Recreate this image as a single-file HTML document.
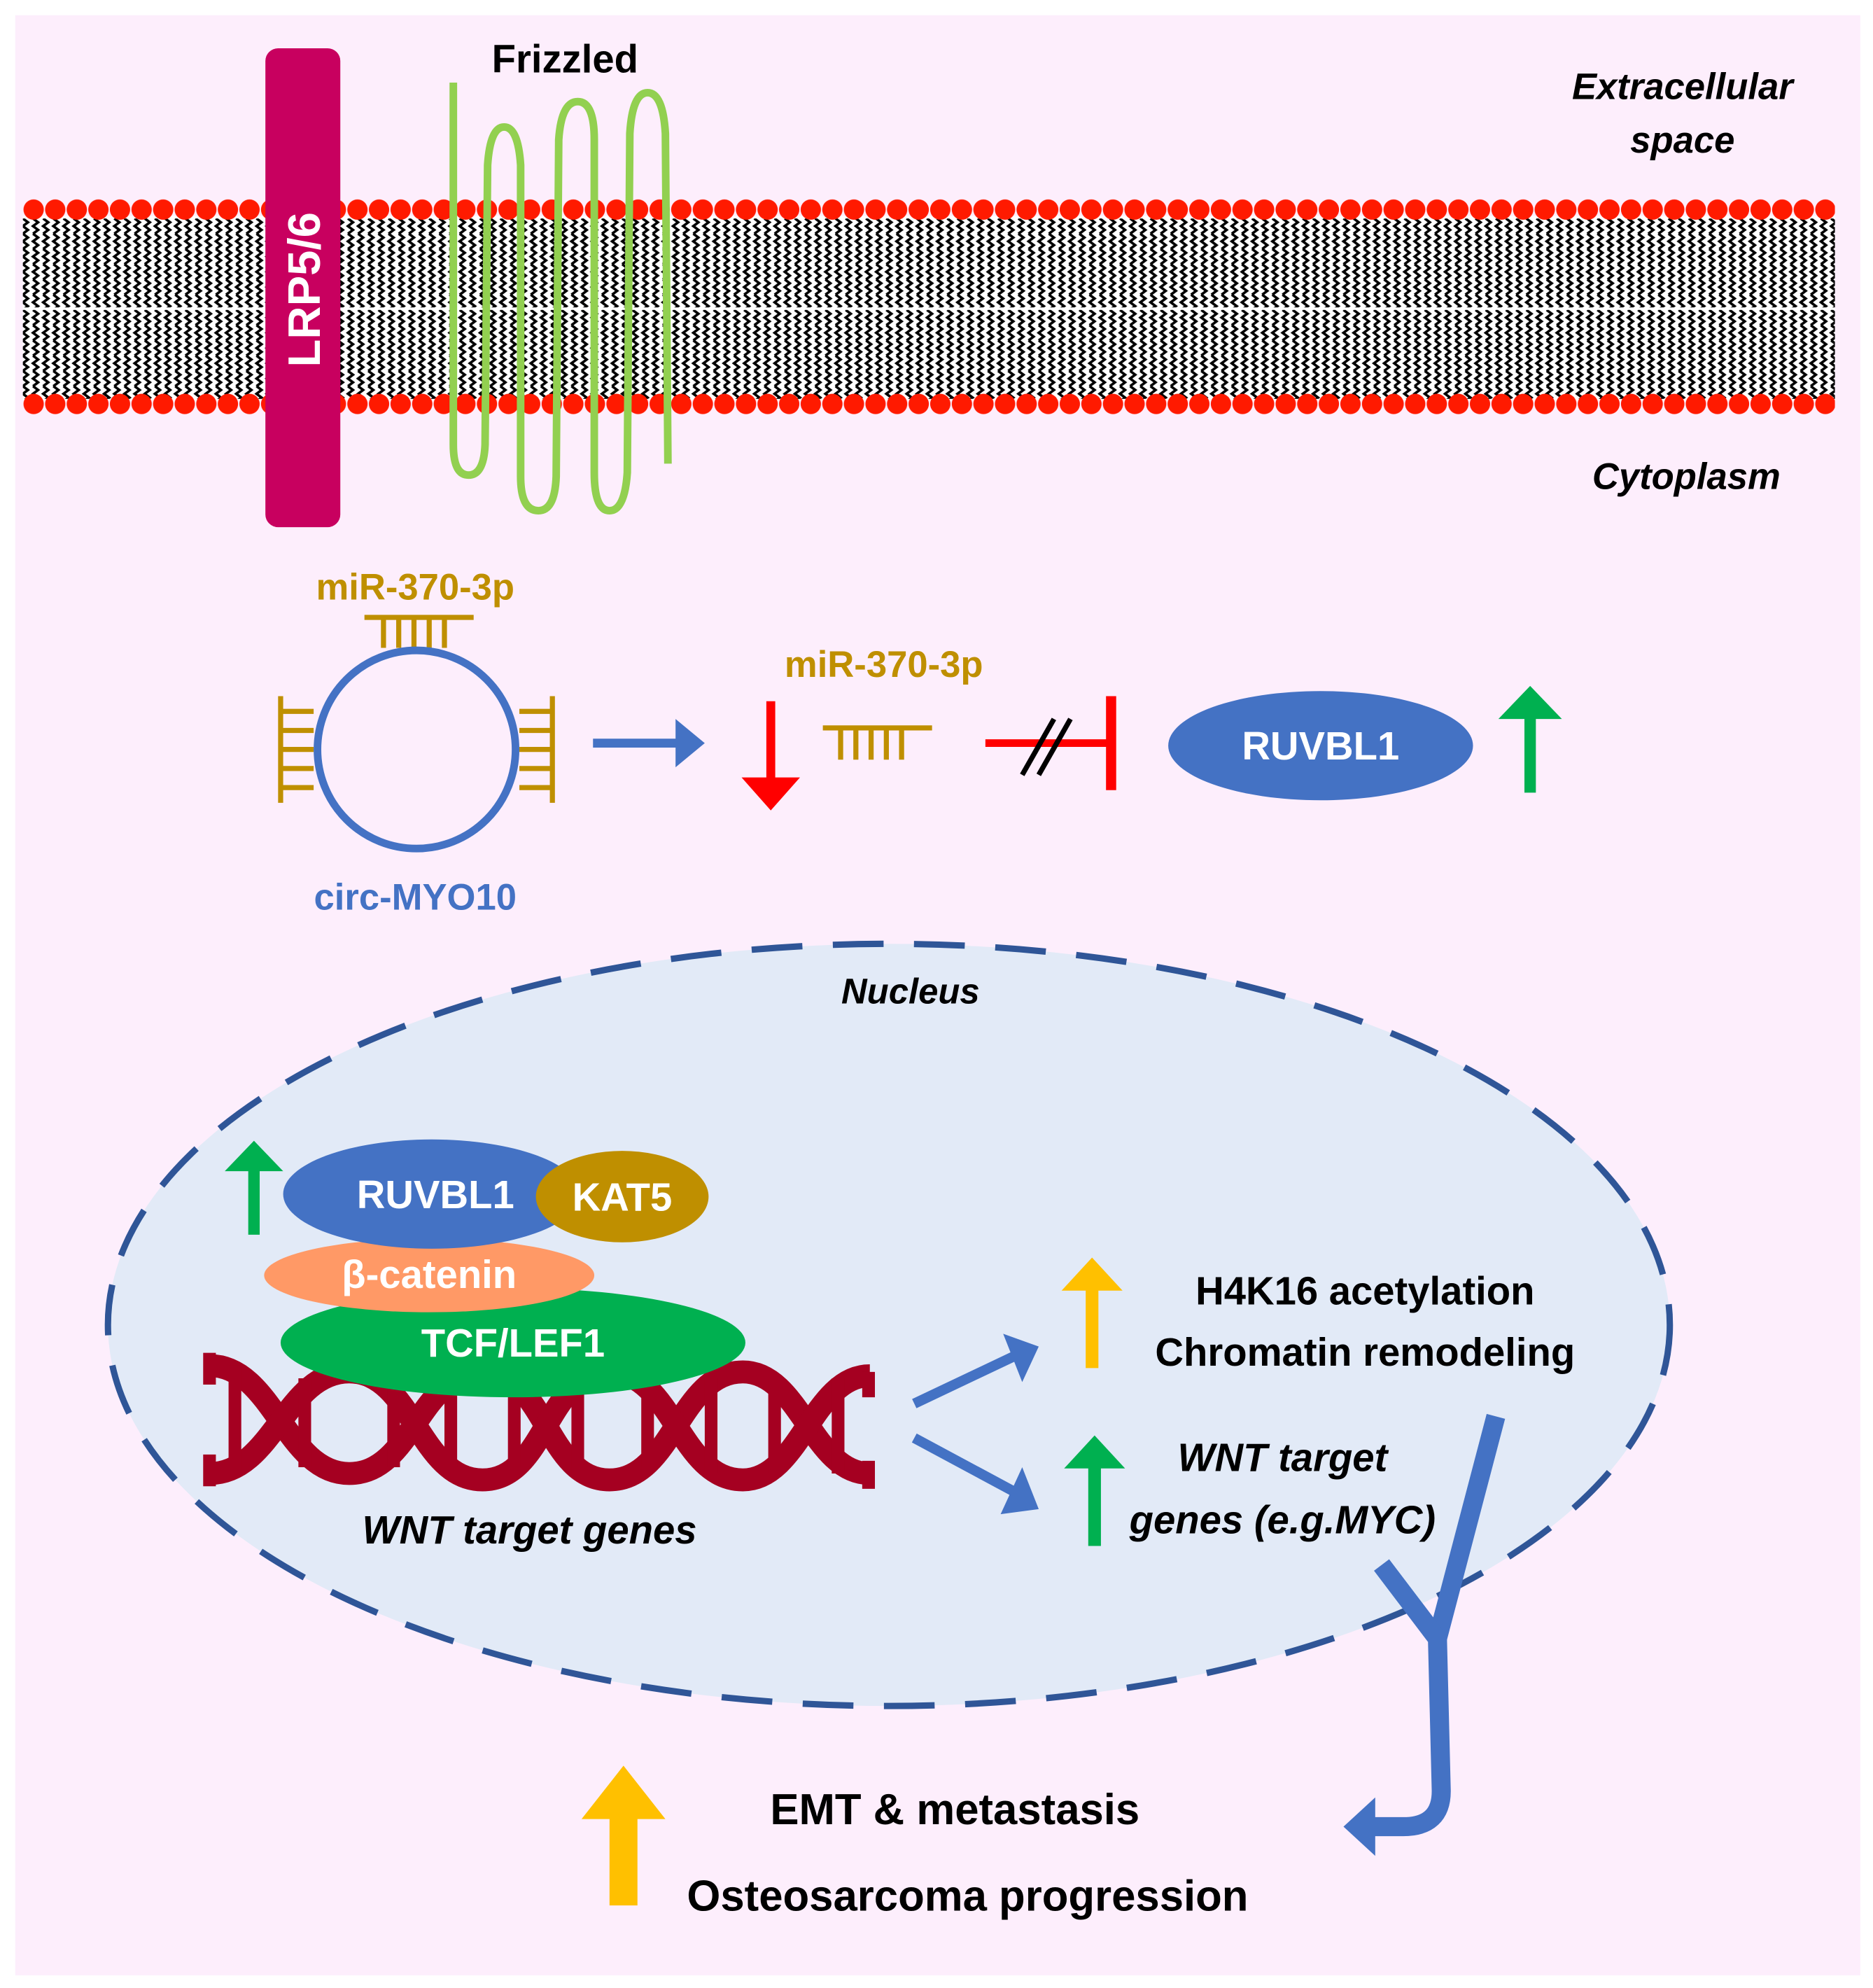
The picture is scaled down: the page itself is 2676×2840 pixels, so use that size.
<!DOCTYPE html>
<html><head><meta charset="utf-8"><style>
html,body{margin:0;padding:0;background:#fff;}
svg{display:block;}
text{font-family:"Liberation Sans",sans-serif;font-weight:bold;}
</style></head><body>
<svg width="2676" height="2840" viewBox="0 0 1475 1565" preserveAspectRatio="none" xmlns="http://www.w3.org/2000/svg">
<defs>
<pattern id="zz" x="0" y="172" width="8" height="12" patternUnits="userSpaceOnUse">
<polyline points="2,0 6,3 2,6 6,9 2,12" fill="none" stroke="#000" stroke-width="2"/>
</pattern>
<pattern id="dots1" x="18" y="155" width="17" height="20" patternUnits="userSpaceOnUse">
<circle cx="8.5" cy="10" r="8" fill="#ff1a00"/>
</pattern>
<pattern id="dots2" x="18" y="308" width="17" height="20" patternUnits="userSpaceOnUse">
<circle cx="8.5" cy="10" r="8" fill="#ff1a00"/>
</pattern>
</defs>
<rect x="0" y="0" width="1475" height="1565" fill="#fff"/>
<rect x="12" y="12" width="1453" height="1543" fill="#fdeefc"/>
<!-- membrane -->
<rect x="18" y="170" width="1427" height="145" fill="#fff"/>
<rect x="18" y="172" width="1427" height="70" fill="url(#zz)"/>
<rect x="18" y="244" width="1427" height="70" fill="url(#zz)"/>
<rect x="18" y="155" width="1427" height="20" fill="url(#dots1)"/>
<rect x="18" y="308" width="1427" height="20" fill="url(#dots2)"/>
<!-- LRP5/6 -->
<rect x="209" y="38" width="59" height="377" rx="10" fill="#c8005f"/>
<text x="0" y="0" transform="translate(252,228) rotate(-90)" fill="#fff" font-size="36" text-anchor="middle">LRP5/6</text>
<!-- Frizzled -->
<text x="445" y="57" font-size="31" text-anchor="middle" fill="#000">Frizzled</text>
<path d="M357,65 L357,350 Q357,374 369,374 Q381,374 382,350 L384,130 Q386,100 397,100 Q408,100 410,130 L410,375 Q410,402 424,402 Q437,402 438,375 L440,110 Q442,80 455,80 Q468,80 468,110 L468,372 Q468,402 480,402 Q492,402 494,372 L496,105 Q498,73 510,73 Q522,73 524,105 L526,365" fill="none" stroke="#92d050" stroke-width="6"/>
<text x="1325" y="78" font-size="29" font-style="italic" text-anchor="middle">Extracellular</text>
<text x="1325" y="120" font-size="29" font-style="italic" text-anchor="middle">space</text>
<text x="1328" y="385" font-size="29" font-style="italic" text-anchor="middle">Cytoplasm</text>
<!-- circ-MYO10 -->
<g stroke="#bf8f00" stroke-width="4" fill="none">
<line x1="287" y1="486" x2="373" y2="486"/>
<path d="M302,486v24M314,486v24M326,486v24M338,486v24M350,486v24"/>
<line x1="221" y1="548" x2="221" y2="632"/>
<path d="M221,560h26M221,575h26M221,590h26M221,605h26M221,620h26"/>
<line x1="435" y1="548" x2="435" y2="632"/>
<path d="M435,560h-26M435,575h-26M435,590h-26M435,605h-26M435,620h-26"/>
<line x1="648" y1="573" x2="734" y2="573"/>
<path d="M662,573v25M674,573v25M686,573v25M698,573v25M710,573v25"/>
</g>
<circle cx="328" cy="590" r="78" fill="none" stroke="#4472c4" stroke-width="6"/>
<text x="327" y="472" font-size="29" fill="#bf8f00" text-anchor="middle">miR-370-3p</text>
<text x="327" y="716" font-size="29" fill="#4472c4" text-anchor="middle">circ-MYO10</text>
<text x="696" y="533" font-size="29" fill="#bf8f00" text-anchor="middle">miR-370-3p</text>
<line x1="467" y1="585" x2="535" y2="585" stroke="#4472c4" stroke-width="7"/>
<path d="M532,566 L555,585 L532,604 z" fill="#4472c4"/>
<line x1="607" y1="552" x2="607" y2="615" stroke="#ff0000" stroke-width="7"/>
<path d="M584,612 L630,612 L607,638 z" fill="#ff0000"/>
<line x1="776" y1="585" x2="875" y2="585" stroke="#ff0000" stroke-width="6"/>
<line x1="875" y1="548" x2="875" y2="622" stroke="#ff0000" stroke-width="8"/>
<line x1="805" y1="610" x2="830" y2="566" stroke="#000" stroke-width="4"/>
<line x1="818" y1="610" x2="843" y2="566" stroke="#000" stroke-width="4"/>
<ellipse cx="1040" cy="587" rx="120" ry="43" fill="#4472c4"/>
<text x="1040" y="598" font-size="31" fill="#fff" text-anchor="middle">RUVBL1</text>
<line x1="1205" y1="624" x2="1205" y2="560" stroke="#00b050" stroke-width="9"/>
<path d="M1180,566 L1205,540 L1230,566 z" fill="#00b050"/>
<!-- Nucleus -->
<ellipse cx="700" cy="1043" rx="615" ry="300" fill="#e2eaf7" stroke="#2f5597" stroke-width="5" stroke-dasharray="40 24"/>
<text x="717" y="790" font-size="28" font-style="italic" text-anchor="middle">Nucleus</text>
<line x1="200" y1="972" x2="200" y2="918" stroke="#00b050" stroke-width="9"/>
<path d="M177,922 L200,898 L223,922 z" fill="#00b050"/>
<!-- DNA -->
<g stroke="#a50021" fill="none">
<path d="M165,1075 C215,1075 225,1160 275,1160 C325,1160 330,1080 380,1080 C430,1080 430,1165 480,1165 C530,1165 535,1080 585,1080 C630,1080 640,1160 685,1160" stroke-width="18"/>
<path d="M165,1160 C215,1160 225,1080 275,1080 C325,1080 330,1165 380,1165 C430,1165 430,1080 480,1080 C530,1080 535,1165 585,1165 C630,1165 640,1083 685,1083" stroke-width="18"/>
<path d="M185,1075v85M240,1085v70M310,1085v70M355,1085v70M405,1085v70M455,1085v75M510,1085v75M560,1085v75M610,1085v75M660,1085v75" stroke-width="10"/>
<line x1="165" y1="1065" x2="165" y2="1090" stroke-width="10"/>
<line x1="165" y1="1145" x2="165" y2="1170" stroke-width="10"/>
<line x1="684" y1="1080" x2="684" y2="1100" stroke-width="10"/>
<line x1="684" y1="1150" x2="684" y2="1172" stroke-width="10"/>
</g>
<ellipse cx="404" cy="1057" rx="183" ry="43" fill="#00b050"/>
<text x="404" y="1068" font-size="31" fill="#fff" text-anchor="middle">TCF/LEF1</text>
<ellipse cx="338" cy="1004" rx="130" ry="29" fill="#ff9966"/>
<text x="338" y="1014" font-size="31" fill="#fff" text-anchor="middle">β-catenin</text>
<ellipse cx="340" cy="940" rx="117" ry="43" fill="#4472c4"/>
<ellipse cx="490" cy="942" rx="68" ry="36" fill="#bf8f00"/>
<text x="343" y="951" font-size="31" fill="#fff" text-anchor="middle">RUVBL1</text>
<text x="490" y="953" font-size="31" fill="#fff" text-anchor="middle">KAT5</text>
<text x="417" y="1215" font-size="31" font-style="italic" text-anchor="middle">WNT target genes</text>
<line x1="720" y1="1105" x2="800" y2="1067" stroke="#4472c4" stroke-width="8"/>
<path d="M790,1050 L818,1060 L805,1088 z" fill="#4472c4"/>
<line x1="720" y1="1132" x2="800" y2="1175" stroke="#4472c4" stroke-width="8"/>
<path d="M805,1155 L818,1188 L788,1192 z" fill="#4472c4"/>
<line x1="860" y1="1077" x2="860" y2="1012" stroke="#ffc000" stroke-width="10"/>
<path d="M836,1016 L860,990 L884,1016 z" fill="#ffc000"/>
<text x="1075" y="1027" font-size="31" text-anchor="middle">H4K16 acetylation</text>
<text x="1075" y="1075" font-size="31" text-anchor="middle">Chromatin remodeling</text>
<line x1="862" y1="1217" x2="862" y2="1152" stroke="#00b050" stroke-width="10"/>
<path d="M838,1156 L862,1130 L886,1156 z" fill="#00b050"/>
<text x="1010" y="1158" font-size="31" font-style="italic" text-anchor="middle">WNT target</text>
<text x="1010" y="1207" font-size="31" font-style="italic" text-anchor="middle">genes (e.g.MYC)</text>
<g stroke="#4472c4" stroke-width="15" fill="none" stroke-linejoin="round">
<path d="M1178,1115 L1132,1290"/>
<path d="M1088,1232 L1132,1290 L1135,1410 Q1135,1438 1105,1438 L1080,1438"/>
</g>
<path d="M1083,1415 L1058,1438 L1083,1461 z" fill="#4472c4"/>
<rect x="480" y="1430" width="22" height="70" fill="#ffc000"/>
<path d="M458,1432 L491,1390 L524,1432 z" fill="#ffc000"/>
<text x="752" y="1436" font-size="34" text-anchor="middle">EMT &amp; metastasis</text>
<text x="762" y="1504" font-size="34" text-anchor="middle">Osteosarcoma progression</text>
</svg>
</body></html>
